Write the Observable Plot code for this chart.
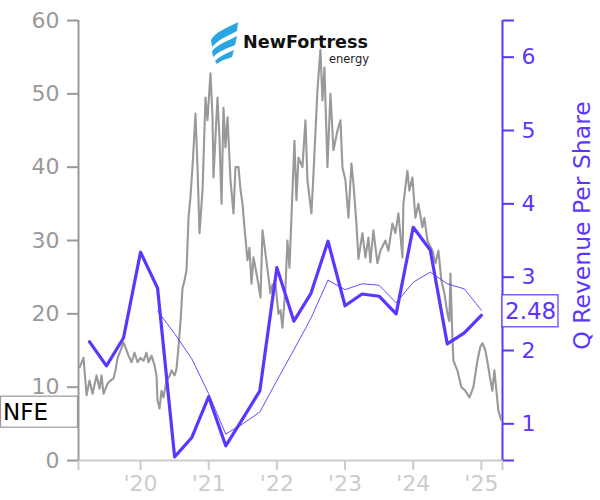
<!DOCTYPE html>
<html><head><meta charset="utf-8">
<script src="https://cdn.jsdelivr.net/npm/d3@7"></script>
<script src="https://cdn.jsdelivr.net/npm/@observablehq/plot@0.6"></script>
<style>body{margin:0;background:#fff;} svg{display:block;}</style>
</head><body><div id="chart"></div>
<script>
const purple = "#5c35ff";
const gray = "#999999";
const xDomain = [2019.09, 2025.31];
const yearTicks = [2020, 2021, 2022, 2023, 2024, 2025];
const priceTicks = [0, 10, 20, 30, 40, 50, 60];
const revTicks = [1, 2, 3, 4, 5, 6];
const revDomain = [0.5, 6.5];
const ticker = "NFE";
const revLabel = "Q Revenue Per Share";

// daily stock price (decimal years)
const stockYears = [2019.106,2019.164,2019.208,2019.252,2019.296,2019.355,2019.399,2019.428,2019.457,2019.516,2019.560,2019.604,2019.633,2019.663,2019.707,2019.751,2019.780,2019.824,2019.868,2019.912,2019.956,2020.000,2020.044,2020.088,2020.117,2020.161,2020.205,2020.235,2020.249,2020.279,2020.308,2020.337,2020.381,2020.425,2020.455,2020.499,2020.528,2020.557,2020.587,2020.616,2020.645,2020.675,2020.704,2020.733,2020.762,2020.806,2020.836,2020.865,2020.909,2020.953,2020.982,2021.026,2021.056,2021.070,2021.129,2021.158,2021.188,2021.217,2021.246,2021.276,2021.320,2021.364,2021.393,2021.437,2021.466,2021.496,2021.525,2021.569,2021.598,2021.628,2021.657,2021.701,2021.730,2021.760,2021.789,2021.833,2021.877,2021.906,2021.935,2021.980,2022.023,2022.053,2022.082,2022.126,2022.155,2022.185,2022.229,2022.258,2022.287,2022.317,2022.375,2022.419,2022.449,2022.507,2022.537,2022.595,2022.639,2022.669,2022.698,2022.742,2022.786,2022.830,2022.889,2022.933,2022.962,2023.006,2023.050,2023.094,2023.123,2023.167,2023.197,2023.255,2023.299,2023.343,2023.372,2023.416,2023.475,2023.519,2023.592,2023.636,2023.695,2023.739,2023.783,2023.842,2023.856,2023.915,2023.944,2023.988,2024.032,2024.076,2024.135,2024.164,2024.208,2024.282,2024.326,2024.370,2024.414,2024.458,2024.502,2024.531,2024.546,2024.575,2024.590,2024.648,2024.707,2024.766,2024.825,2024.883,2024.942,2024.985,2025.015,2025.059,2025.103,2025.132,2025.161,2025.191,2025.205,2025.249,2025.293];
const stockPrices = [12.7,14.0,8.9,10.9,9.1,11.6,9.8,11.6,9.1,10.5,10.9,11.2,12.3,14.0,15.0,16.1,15.4,14.3,13.4,14.7,13.4,14.0,13.6,14.7,13.4,14.3,13.0,11.5,8.2,7.1,9.5,8.6,10.9,11.5,12.3,11.6,12.5,15.5,19.0,23.5,24.5,26.0,33.1,36.0,40.0,47.3,40.0,31.0,36.8,49.5,46.4,52.8,46.8,38.6,49.5,44.0,35.0,48.1,42.7,46.8,38.2,33.7,40.0,40.0,37.0,35.0,31.8,27.3,29.0,24.1,27.7,25.5,24.0,22.2,31.4,28.2,25.0,22.8,24.0,24.1,20.0,20.5,18.1,23.6,30.0,26.3,36.8,43.6,35.5,41.3,40.0,46.4,38.2,33.7,39.1,50.5,56.0,49.1,53.6,40.0,50.0,42.3,45.0,46.4,40.0,38.2,33.1,40.5,37.8,32.3,27.5,31.0,27.7,30.4,27.0,31.4,26.9,28.6,30.0,28.6,32.3,31.0,33.7,27.7,35.0,39.5,36.8,38.6,33.1,35.0,31.8,33.1,30.0,28.6,26.9,28.6,24.5,22.8,20.0,19.0,25.5,16.8,13.6,12.3,10.0,9.5,8.6,10.0,13.6,15.5,16.0,15.0,12.7,11.0,9.5,12.3,11.0,6.8,5.5];

// quarterly revenue per share
const qYears = [2019.25,2019.5,2019.75,2020.0,2020.25,2020.5,2020.75,2021.0,2021.25,2021.5,2021.75,2022.0,2022.25,2022.5,2022.75,2023.0,2023.25,2023.5,2023.75,2024.0,2024.25,2024.5,2024.75,2025.0];
const qRev = [2.12,1.79,2.17,3.34,2.85,0.55,0.81,1.37,0.70,1.07,1.45,3.13,2.40,2.78,3.49,2.61,2.77,2.74,2.50,3.68,3.37,2.09,2.24,2.48];
// trailing four-quarter average
const avgYears = [2020.25,2020.5,2020.75,2021.0,2021.25,2021.5,2021.75,2022.0,2022.25,2022.5,2022.75,2023.0,2023.25,2023.5,2023.75,2024.0,2024.25,2024.5,2024.75,2025.0];
const avgRev = [2.54,2.23,1.89,1.41,0.86,1.00,1.16,1.59,2.01,2.44,2.96,2.83,2.91,2.89,2.65,2.93,3.07,2.91,2.84,2.55];

const toPrice = v => (v - revDomain[0]) / (revDomain[1] - revDomain[0]) * 60;
const fromPrice = p => p / 60 * (revDomain[1] - revDomain[0]) + revDomain[0];

const stock = stockYears.map((t, i) => ({t, p: stockPrices[i]}));
const q = qYears.map((t, i) => ({t, v: toPrice(qRev[i])}));
const avg = avgYears.map((t, i) => ({t, v: toPrice(avgRev[i])}));

const chart = Plot.plot({
  width: 600, height: 500,
  marginLeft: 78, marginRight: 98, marginTop: 20, marginBottom: 40,
  style: {fontFamily: "DejaVu Sans", background: "white", overflow: "visible"},
  x: {domain: xDomain},
  y: {domain: [0, 60]},
  marks: [
    Plot.ruleY([0], {stroke: "#cccccc", strokeWidth: 2}),
    Plot.ruleX([xDomain[0]], {stroke: gray, strokeWidth: 2}),
    Plot.ruleX([xDomain[1]], {stroke: purple, strokeWidth: 2}),
    Plot.axisX({ticks: [xDomain[0], ...yearTicks, xDomain[1]],
      tickFormat: d => yearTicks.includes(d) ? "'" + String(d).slice(2) : "",
      tickSize: 10, tickPadding: 5, fontSize: 22, color: "#cccccc", strokeWidth: 2, label: null}),
    Plot.axisY({ticks: priceTicks, tickSize: 11, tickPadding: 8, fontSize: 22, color: gray, strokeWidth: 2, label: null}),
    Plot.axisY({anchor: "right", ticks: [revDomain[0], ...revTicks, revDomain[1]].map(toPrice),
      tickFormat: d => { const v = Math.round(fromPrice(d) * 100) / 100; return revTicks.includes(v) ? String(v) : ""; },
      tickSize: 11, tickPadding: 8, fontSize: 22, color: purple, strokeWidth: 2, label: null}),
    Plot.line(stock, {x: "t", y: "p", stroke: gray, strokeWidth: 2.1}),
    Plot.line(avg, {x: "t", y: "v", stroke: purple, strokeWidth: 0.9}),
    Plot.line(q, {x: "t", y: "v", stroke: purple, strokeWidth: 3.2}),
    Plot.text([revLabel], {frameAnchor: "right", text: d => d, dx: 80, dy: -15, rotate: -90,
      textAnchor: "middle", lineAnchor: "middle", fontSize: 23.5, fill: purple})
  ]
});

const svg = d3.select(chart);
const yS = chart.scale("y");
const g = svg.append("g").attr("font-family", "DejaVu Sans").attr("text-anchor", "start");

// ticker label box at last price
const yN = yS.apply(stockPrices[stockPrices.length - 1]) - 8;
g.append("rect").attr("x", 0.5).attr("y", yN - 15.5).attr("width", 77).attr("height", 31)
  .attr("fill", "white").attr("stroke", gray).attr("stroke-width", 1.2);
g.append("text").attr("x", 3).attr("y", yN).attr("dy", "0.36em").attr("font-size", 23)
  .attr("text-anchor", "start").attr("fill", "black").text(ticker);

// last revenue box
const lastRev = qRev[qRev.length - 1];
const yR = yS.apply(toPrice(lastRev)) - 4;
g.append("rect").attr("x", 502).attr("y", yR - 16).attr("width", 56).attr("height", 32)
  .attr("fill", "white").attr("stroke", purple).attr("stroke-width", 1.2);
g.append("text").attr("x", 505).attr("y", yR).attr("dy", "0.36em").attr("font-size", 23)
  .attr("text-anchor", "start").attr("fill", purple).text(lastRev.toFixed(2));

// logo
const logo = svg.append("g");
const blue = "#2aa6e0";
logo.append("path").attr("fill", blue).attr("d", "M211,40 C215,32 227,28 238,22 L237,31 C230,35 220,38 212,47 Z");
logo.append("path").attr("fill", blue).attr("d", "M212,51 C218,44 228,41 237,36 L235,45 C228,48 219,51 213,57 Z");
logo.append("path").attr("fill", blue).attr("d", "M215,61 C220,56 227,53 234,50 L232,57 C227,59 221,60 217,64 Z");
logo.append("text").attr("x", 243).attr("y", 48).attr("text-anchor", "start").attr("font-family", "DejaVu Sans")
  .attr("font-weight", "bold").attr("font-size", 17.6).attr("fill", "#111").text("NewFortress");
logo.append("text").attr("x", 369).attr("y", 63).attr("text-anchor", "end").attr("font-family", "DejaVu Sans")
  .attr("font-size", 11.5).attr("fill", "#222").text("energy");

document.getElementById("chart").appendChild(chart);
</script></body></html>
